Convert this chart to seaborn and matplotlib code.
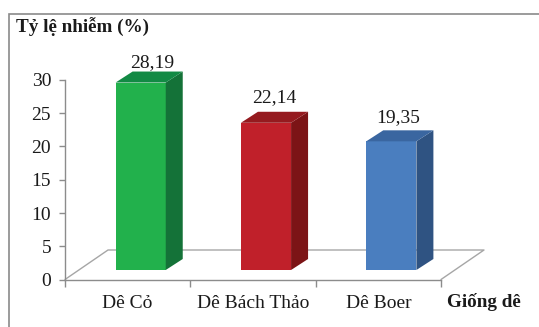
import matplotlib
matplotlib.use("Agg")
import matplotlib.pyplot as plt
import matplotlib.transforms as mtransforms
from matplotlib.patches import Polygon, Rectangle
import seaborn as sns
import pandas as pd

# Data
breeds = ["Dê Cỏ", "Dê Bách Thảo", "Dê Boer"]
rates = [28.19, 22.14, 19.35]
rate_labels = ["28,19", "22,14", "19,35"]
y_ticks = [0, 5, 10, 15, 20, 25, 30]

front_colors = ["#22B14C", "#C0202A", "#4A7EBF"]
top_colors = ["#128A44", "#951A1F", "#3A66A0"]
side_colors = ["#147238", "#7C1416", "#2F5382"]

# value label placement (pixels from the bar's value point)
label_offsets = [(25, 25), (21, 30), (20, 29)]

sns.set_theme(style="white")
plt.rcParams["font.family"] = ["Liberation Serif", "DejaVu Serif"]

W, H, DPI = 539, 327, 100
fig = plt.figure(figsize=(W / DPI, H / DPI), dpi=DPI)
ax = fig.add_axes([65 / W, 47.5 / H, 376 / W, 199.5 / H])

df = pd.DataFrame({"breed": breeds, "rate": rates})
sns.barplot(data=df, x="breed", y="rate", hue="breed", palette=front_colors,
            width=0.4, ax=ax, legend=False, saturation=1, zorder=3)

ax.set_xlim(-0.5, 2.5)
ax.set_ylim(0, 30)

# pixel -> data unit conversions
px_x = 3 / 376
px_y = 30 / 199.5

# bars sit in the middle of the floor: shift front faces back/up
shift = mtransforms.ScaledTranslation(13 / DPI, 9.5 / DPI, fig.dpi_scale_trans)
bar_tr = ax.transData + shift

depth_x = 17 * px_x
depth_y = 11 * px_y

for i, patch in enumerate(ax.patches):
    patch.set_transform(bar_tr)
    patch.set_linewidth(0)
    patch.set_clip_on(False)
    x0 = patch.get_x()
    x1 = x0 + patch.get_width()
    h = patch.get_height()
    side = Polygon([(x1, 0), (x1 + depth_x, depth_y), (x1 + depth_x, h + depth_y), (x1, h)],
                   closed=True, facecolor=side_colors[i], edgecolor="none",
                   transform=bar_tr, zorder=3, clip_on=False)
    top = Polygon([(x0, h), (x1, h), (x1 + depth_x, h + depth_y), (x0 + depth_x, h + depth_y)],
                  closed=True, facecolor=top_colors[i], edgecolor="none",
                  transform=bar_tr, zorder=3, clip_on=False)
    ax.add_patch(side)
    ax.add_patch(top)
    ax.annotate(rate_labels[i], xy=(i, h), xytext=label_offsets[i],
                textcoords="offset pixels", ha="center", va="baseline",
                fontsize=14, color="#1a1a1a", annotation_clip=False, zorder=4)

# floor outline
floor_dx = 43 * px_x
floor_dy = 29.5 * px_y
ax.plot([-0.5, -0.5 + floor_dx, 2.5 + floor_dx, 2.5], [0, floor_dy, floor_dy, 0],
        color="#a6a6a6", lw=1, zorder=1, clip_on=False)

# axes styling
axis_gray = "#8c8c8c"
for s in ["top", "right"]:
    ax.spines[s].set_visible(False)
for s in ["left", "bottom"]:
    ax.spines[s].set_color(axis_gray)
    ax.spines[s].set_linewidth(1)

ax.set_yticks(y_ticks)
ax.set_yticklabels([str(t) for t in y_ticks])
ax.tick_params(axis="y", length=4, width=1, color=axis_gray, pad=6,
               labelsize=14, labelcolor="#1a1a1a", left=True, direction="out")

ax.set_xticks([-0.5, 0.5, 1.5, 2.5])
ax.set_xticklabels([])
ax.set_xticks(range(len(breeds)), minor=True)
ax.set_xticklabels(breeds, minor=True)
ax.tick_params(axis="x", which="major", length=5, width=1, color=axis_gray,
               bottom=True, direction="out")
ax.tick_params(axis="x", which="minor", length=0, pad=11, labelsize=14,
               labelcolor="#1a1a1a")
ax.set_xlabel("")
ax.set_ylabel("")

fig.text(16 / W, 1 - 33 / H, "Tỷ lệ nhiễm (%)", fontsize=13.8, fontweight="bold",
         ha="left", va="baseline", color="#1a1a1a")
fig.text(447 / W, 1 - 307 / H, "Giống dê", fontsize=13.8, fontweight="bold",
         ha="left", va="baseline", color="#1a1a1a")

# chart frame
fig.patches.append(Rectangle((8.5 / W, -0.1), 1.2, 1 - 13.5 / H + 0.1,
                             transform=fig.transFigure, fill=False,
                             edgecolor="#8a8a8a", lw=1.2))

fig.savefig("out.png", dpi=DPI)
